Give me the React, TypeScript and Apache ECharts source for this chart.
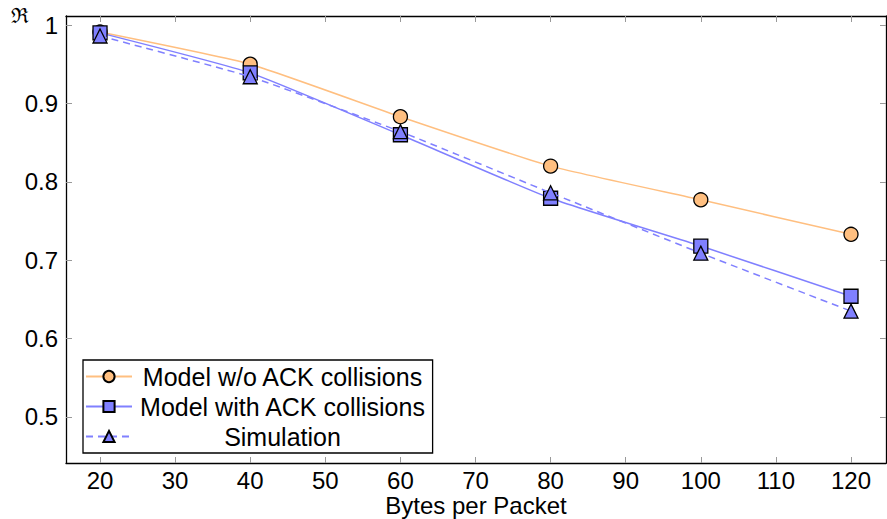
import React, { useEffect, useRef } from "react";
import * as echarts from "echarts";

const bytesPerPacket = [20, 40, 60, 80, 100, 120];
const modelNoAck = [0.991, 0.95, 0.883, 0.82, 0.777, 0.733];
const modelWithAck = [0.99, 0.939, 0.86, 0.779, 0.718, 0.654];
const simulation = [0.986, 0.934, 0.864, 0.786, 0.709, 0.635];
const xTicks = [20, 30, 40, 50, 60, 70, 80, 90, 100, 110, 120];
const yTicks = [0.5, 0.6, 0.7, 0.8, 0.9, 1];

const FONT = "'Liberation Sans', Arial, Helvetica, sans-serif";
const ORANGE = "#FFBF80";
const BLUE = "#8080FF";

const pairs = (ys: number[]) => bytesPerPacket.map((x, i) => [x, ys[i]]);

export default function App() {
  const ref = useRef<HTMLDivElement>(null);
  useEffect(() => {
    if (!ref.current) return;
    const chart = echarts.init(ref.current, null, { renderer: "svg" });
    const xMin = 15.47;
    const xMax = 124.66;
    const yMin = 0.4413;
    const yMax = 1.0115;
    const tick = { show: true, inside: true, length: 6, lineStyle: { color: "#999", width: 1 } };
    const baseX = {
      type: "value",
      min: xMin,
      max: xMax,
      splitLine: { show: false },
      axisLine: { show: true, lineStyle: { color: "#000", width: 1.3 } },
    };
    const baseY = {
      type: "value",
      min: yMin,
      max: yMax,
      splitLine: { show: false },
      axisLine: { show: true, lineStyle: { color: "#000", width: 1.3 } },
    };
    chart.setOption({
      animation: false,
      grid: { left: 66, right: 1, top: 16, bottom: 56, containLabel: false, outerBoundsMode: "none" },
      graphic: [
        {
          type: "text",
          left: 11,
          top: 5,
          style: { text: "ℜ", font: "21px 'DejaVu Serif', serif", fill: "#000" },
        },
      ],
      xAxis: [
        {
          ...baseX,
          position: "bottom",
          axisTick: { ...tick, customValues: xTicks },
          axisLabel: {
            customValues: xTicks,
            fontFamily: FONT,
            fontSize: 24,
            lineHeight: 20,
            color: "#000",
            margin: 7,
          },
          name: "Bytes per Packet",
          nameLocation: "middle",
          nameGap: 32,
          nameMoveOverlap: false,
          nameTextStyle: { fontFamily: FONT, fontSize: 24, lineHeight: 20, color: "#000" },
        },
        {
          ...baseX,
          position: "top",
          axisTick: { ...tick, customValues: xTicks },
          axisLabel: { show: false },
        },
      ],
      yAxis: [
        {
          ...baseY,
          position: "left",
          axisTick: { ...tick, customValues: yTicks },
          axisLabel: {
            customValues: yTicks,
            fontFamily: FONT,
            fontSize: 24,
            color: "#000",
            margin: 8,
            formatter: (v: number) => String(Math.round(v * 10) / 10),
          },
        },
        {
          ...baseY,
          position: "right",
          axisTick: { ...tick, customValues: yTicks },
          axisLabel: { show: false },
        },
      ],
      legend: {
        left: 83,
        top: 360,
        orient: "vertical",
        backgroundColor: "#fff",
        borderColor: "#000",
        borderWidth: 1.3,
        borderRadius: 0,
        padding: [4, 7, 4, 2],
        itemWidth: 46,
        itemHeight: 14,
        itemGap: 5,
        formatter: (name: string) => `{c|${name}}`,
        textStyle: {
          fontFamily: FONT,
          fontSize: 25,
          color: "#000",
          rich: { c: { width: 291, align: "center", fontFamily: FONT, fontSize: 25, color: "#000" } },
        },
        data: ["Model w/o ACK collisions", "Model with ACK collisions", "Simulation"],
      },
      series: [
        {
          name: "Model w/o ACK collisions",
          type: "line",
          data: pairs(modelNoAck),
          smooth: 0.15,
          symbol: "circle",
          symbolSize: 14,
          lineStyle: { color: ORANGE, width: 1.5 },
          itemStyle: { color: ORANGE, borderColor: "#000", borderWidth: 1.3 },
          z: 2,
        },
        {
          name: "Model with ACK collisions",
          type: "line",
          data: pairs(modelWithAck),
          smooth: 0.15,
          symbol: "rect",
          symbolSize: 14,
          lineStyle: { color: BLUE, width: 1.5 },
          itemStyle: { color: BLUE, borderColor: "#000", borderWidth: 1.3 },
          z: 3,
        },
        {
          name: "Simulation",
          type: "line",
          data: pairs(simulation),
          smooth: 0.15,
          symbol: "triangle",
          symbolSize: 14,
          lineStyle: { color: BLUE, width: 1.5, type: [7, 5] },
          itemStyle: { color: BLUE, borderColor: "#000", borderWidth: 1.3 },
          z: 4,
        },
      ],
    });
    return () => chart.dispose();
  }, []);
  return <div ref={ref} style={{ width: 887, height: 519, position: "absolute", left: 0, top: 0 }} />;
}
